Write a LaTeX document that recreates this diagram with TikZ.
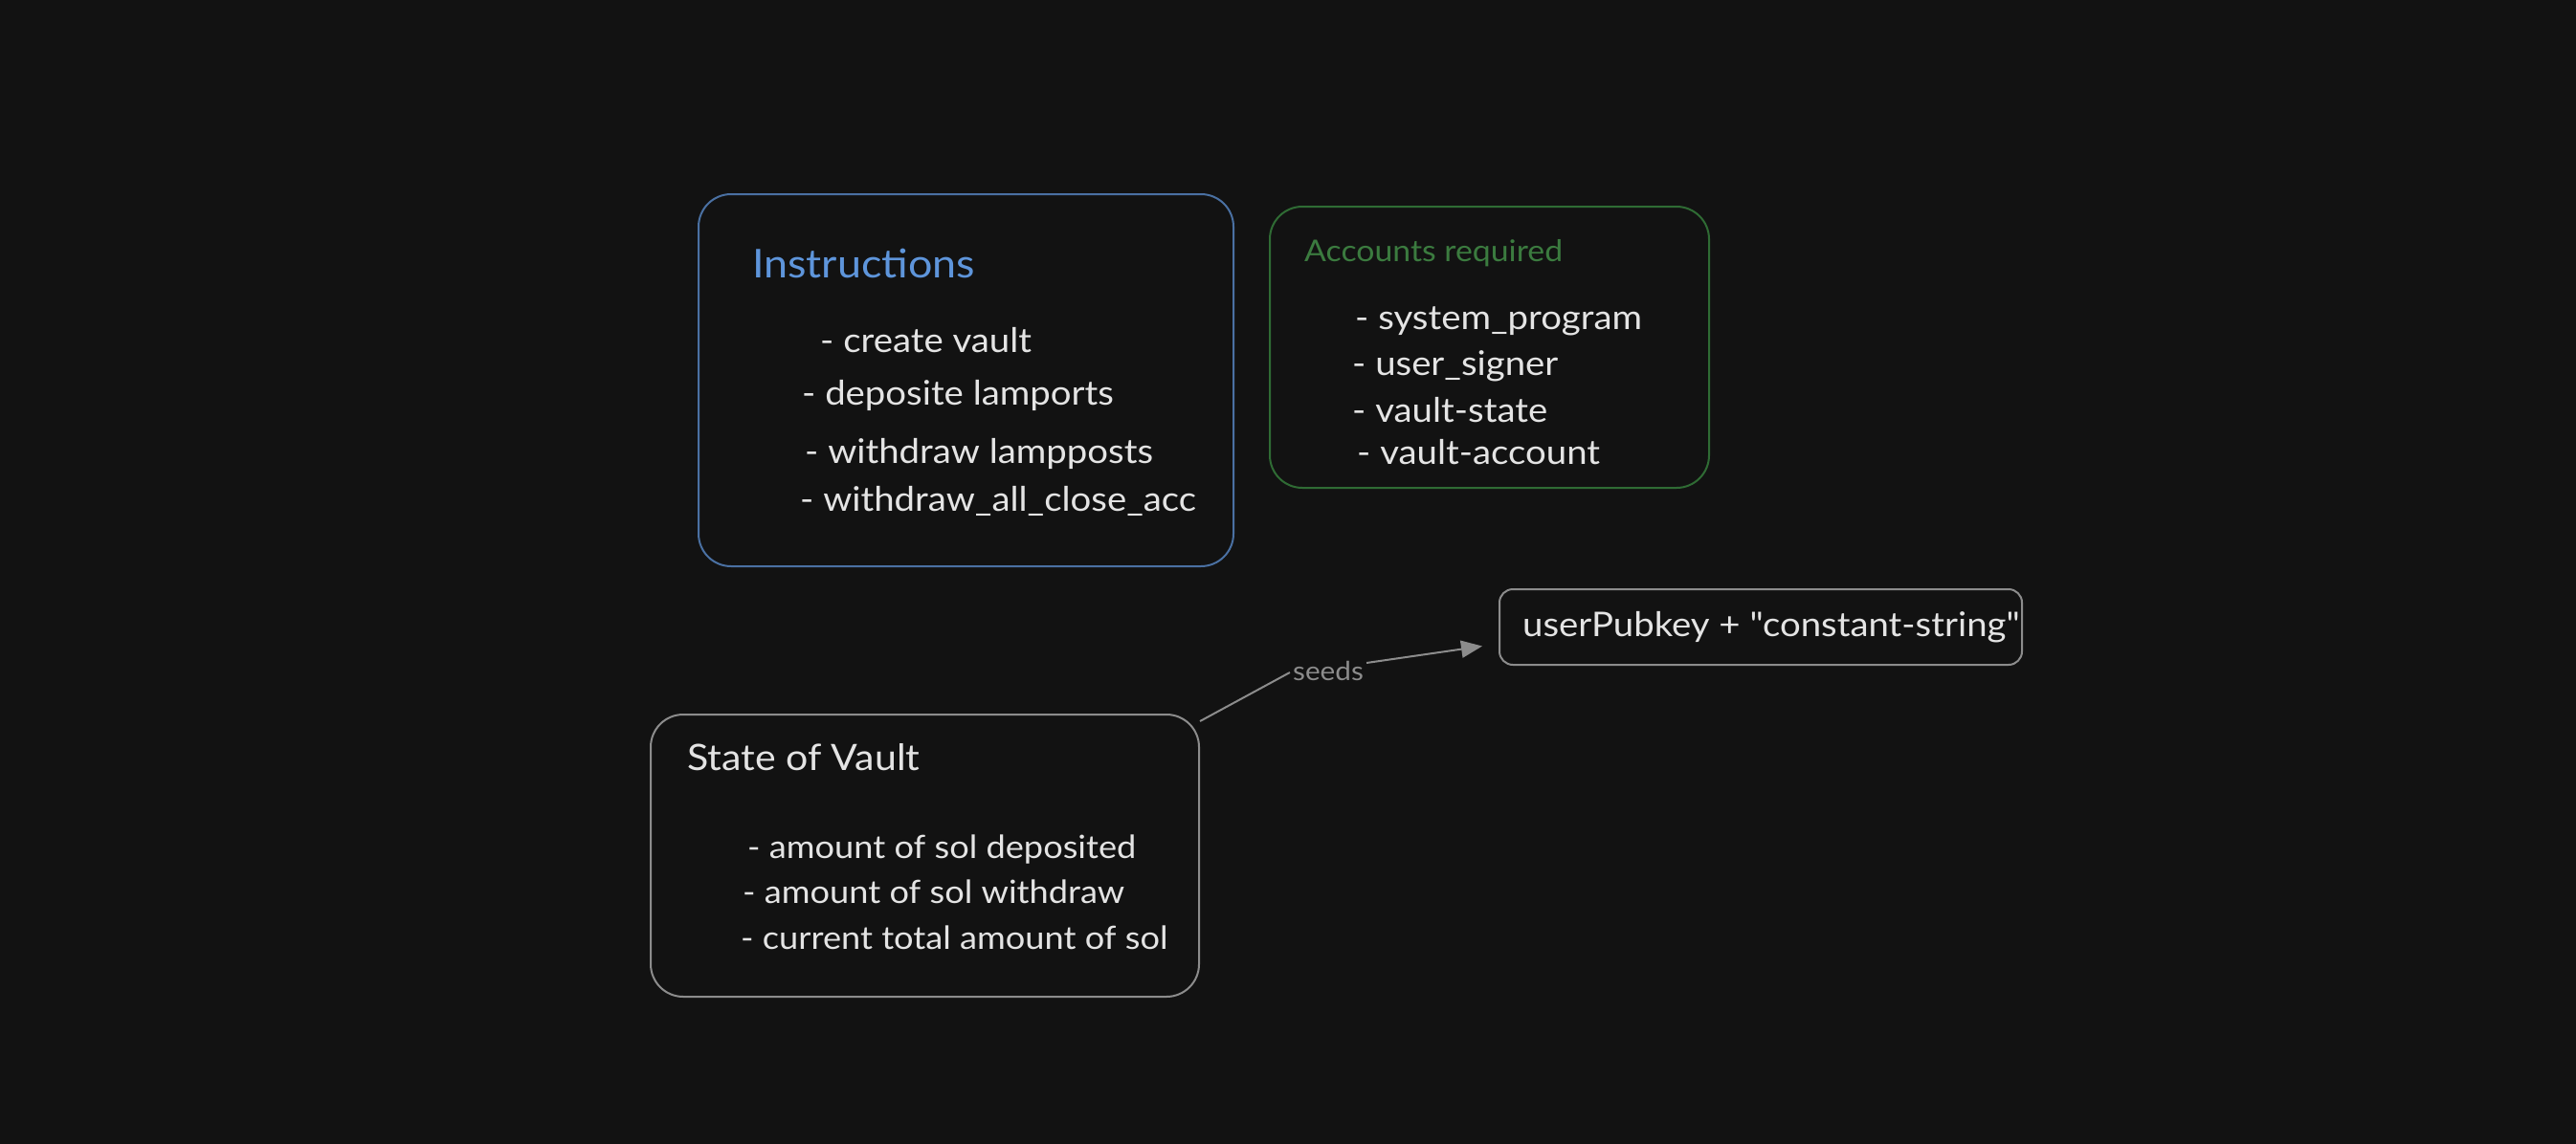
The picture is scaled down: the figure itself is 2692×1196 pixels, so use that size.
\documentclass[tikz,border=0pt]{standalone}
\usepackage{fontspec}
\newfontfamily\hand{Lato}[FakeStretch=1.08]
\usetikzlibrary{arrows.meta}
\definecolor{bg}{HTML}{121212}
\definecolor{txt}{HTML}{E4E4E4}
\definecolor{bluestroke}{HTML}{4A70A2}
\definecolor{bluetitle}{HTML}{5E95DB}
\definecolor{greenstroke}{HTML}{2F6B34}
\definecolor{greentitle}{HTML}{3B7B3F}
\definecolor{graystroke}{HTML}{8C8C8C}
\begin{document}
\begin{tikzpicture}[x=1pt,y=-1pt,
  box/.style={draw, line width=2pt, rounded corners=34pt, fill=bg, inner sep=0pt},
  item/.style={anchor=west, inner sep=0pt, text=txt, font=\hand\fontsize{35.5}{42}\selectfont},
  smallitem/.style={anchor=west, inner sep=0pt, text=txt, font=\hand\fontsize{33.5}{40}\selectfont},
  conn/.style={draw=graystroke, line width=2pt}
]
\fill[bg] (0,0) rectangle (2692,1196);
\useasboundingbox (0,0) rectangle (2692,1196);

% Instructions box
\node[box, draw=bluestroke, minimum width=559pt, minimum height=389pt] (instr) at (1009.5,397.5) {};
\node[anchor=west, inner sep=0pt, text=bluetitle, font=\hand\fontsize{41.5}{48}\selectfont] (instrT) at (786,275) {Instructions};
\node[item] (i1) at (857,356) {- create vault};
\node[item] (i2) at (838,413) {- deposite lamports};
\node[item] (i3) at (841,474) {- withdraw lampposts};
\node[item] (i4) at (836,524) {- withdraw\_all\_close\_acc};

% Accounts box
\node[box, draw=greenstroke, minimum width=459pt, minimum height=294pt] (acc) at (1556.5,363) {};
\node[anchor=west, inner sep=0pt, text=greentitle, font=\hand\fontsize{31.3}{37}\selectfont] (accT) at (1363,265) {Accounts required};
\node[item] (a1) at (1416,336) {- system\_program};
\node[item] (a2) at (1413,383) {- user\_signer};
\node[item] (a3) at (1413,429) {- vault-state};
\node[item] (a4) at (1418,473) {- vault-account};

% userPubkey box
\node[box, draw=graystroke, rounded corners=14pt, minimum width=546pt, minimum height=79pt] (pub) at (1840,655.5) {};
\node[item] (pubT) at (1591,656) {userPubkey + "constant-string"};

% State of Vault box
\node[box, draw=graystroke, minimum width=573pt, minimum height=295pt] (vault) at (966.5,894.5) {};
\node[anchor=west, inner sep=0pt, text=txt, font=\hand\fontsize{38}{44}\selectfont] (vT) at (718,792) {State of Vault};
\node[smallitem] (v1) at (781,888) {- amount of sol deposited};
\node[smallitem] (v2) at (776,932) {- amount of sol withdraw};
\node[smallitem] (v3) at (774,980) {- current total amount of sol};

% connector
\node[inner sep=2pt, text=graystroke, font=\hand\fontsize{27.5}{32}\selectfont] (seeds) at (1388,701) {seeds};
\draw[conn] ([yshift=-8pt]vault.north east) -- ([xshift=-1pt,yshift=-2pt]seeds.west);
\draw[conn, -{Triangle[length=22pt,width=18pt]}] ([xshift=1pt,yshift=8pt]seeds.east) -- ([xshift=-17pt,yshift=-20pt]pub.west);
\end{tikzpicture}
\end{document}
